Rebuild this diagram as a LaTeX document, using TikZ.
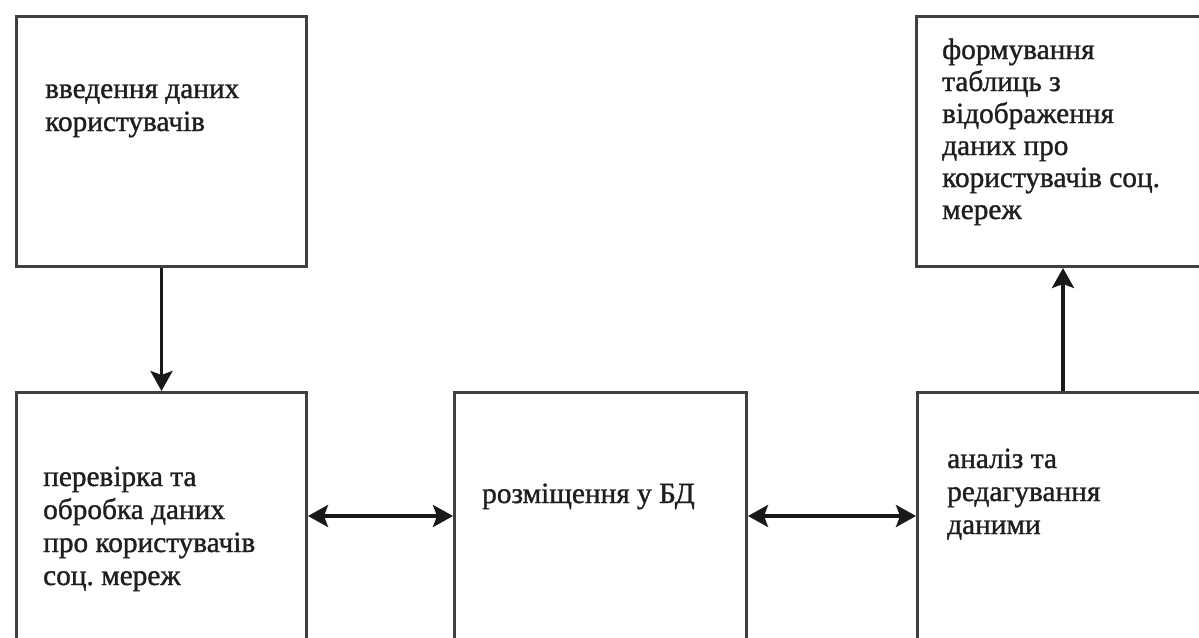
\documentclass[tikz,border=0pt]{standalone}
\usepackage{fontspec}
\setmainfont{Liberation Serif}
\newfontfamily\labelfont{Liberation Serif}[FakeBold=1.2]
\usetikzlibrary{arrows.meta}
\frenchspacing
\begin{document}
\begin{tikzpicture}[x=1pt,y=-1pt,
  block/.style={draw=black!75,line width=3pt,anchor=north west,inner sep=0pt,
    minimum width=290pt,minimum height=250pt},
  label/.style={anchor=base west,inner sep=0pt,text=black!88,
    font=\labelfont\fontsize{29.3}{33}\selectfont},
  link/.style={draw=black!90,line width=3.5pt,arrows={-Stealth[length=20pt,width=22pt,inset=4pt]}},
  dlink/.style={link,arrows={Stealth[length=20pt,width=22pt,inset=4pt]-Stealth[length=20pt,width=22pt,inset=4pt]}}]
\useasboundingbox (0,0) rectangle (1199,637);
\clip (0,0) rectangle (1199,637);
\fill[white] (0,0) rectangle (1199,637);

% blocks
\node[block] (input) at (15,15) {};
\node[block] (check) at (15,391) {};
\node[block,minimum width=292pt] (store) at (453,391) {};
\node[block] (edit) at (916,391) {};
\node[block] (tables) at (915,15) {};

% block captions
\node[label] (tinput) at (45,98) {\parbox[t]{250pt}{\raggedright
  введення даних\\користувачів}};
\node[label] (tcheck) at (43,486) {\parbox[t]{255pt}{\raggedright
  перевірка та\\обробка даних\\про користувачів\\соц. мереж}};
\node[label] (tstore) at (482,503) {розміщення у БД};
\node[label] (tedit) at (947,468) {\parbox[t]{240pt}{\raggedright
  аналіз та\\редагування\\даними}};
\node[label,font=\labelfont\fontsize{29.3}{32}\selectfont] (ttables) at (942,59) {\parbox[t]{250pt}{\raggedright
  формування\\таблиць з\\відображення\\даних про\\користувачів соц.\\мереж}};

% connectors
\coordinate (row) at (0,516);
\draw[link] (input.south) -- (check.north);
\draw[link] (edit.north -| 1063,0) -- (tables.south -| 1063,0);
\draw[dlink] (check.east |- row) -- (store.west |- row);
\draw[dlink] (store.east |- row) -- (edit.west |- row);
\end{tikzpicture}
\end{document}
